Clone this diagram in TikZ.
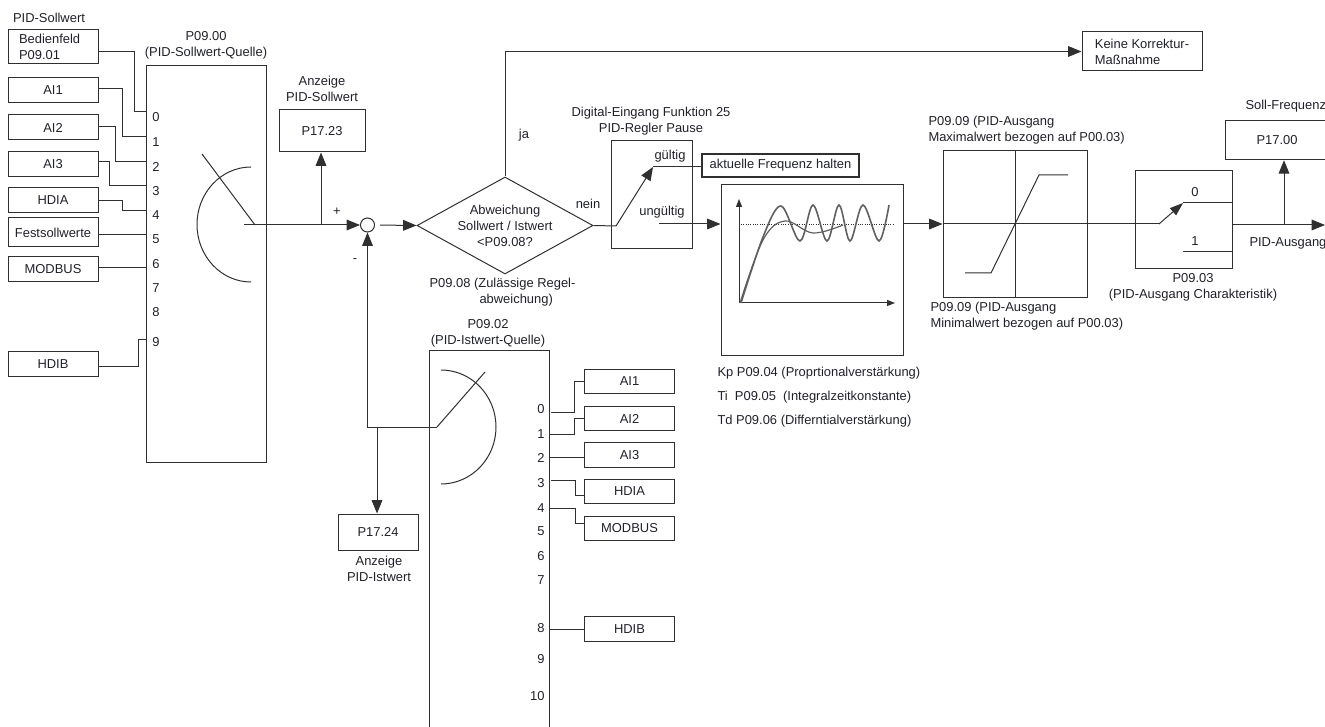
\documentclass[tikz,border=0pt]{standalone}
\usepackage{fontspec}
\setmainfont{Liberation Sans}
\usetikzlibrary{arrows.meta,shapes.geometric,calc}
\definecolor{ink}{HTML}{20202c}
\definecolor{wire}{HTML}{303030}
\definecolor{trace}{HTML}{606060}
\begin{document}
\begin{tikzpicture}[x=0.75pt,y=-0.75pt,
   every node/.style={font=\fontsize{9.7}{12}\selectfont,text=ink,inner sep=0pt},
   every path/.style={draw=wire,line width=0.75pt},
   lbl/.style={align=center},
   lft/.style={align=left,anchor=west},
   box/.style={rectangle,draw=wire,line width=0.75pt,align=center},
   srcbox/.style={box,minimum width=67.5pt,minimum height=18.5pt},
   arr/.style={-{Triangle[length=10pt,width=8pt]}},
   sarr/.style={-{Triangle[length=6pt,width=4.5pt]}},
   sw/.style={line width=0.75pt}]
  \path[use as bounding box,draw=none] (0,0) rectangle (1325,727);

  \node[lbl] (solllbl) at (49,17.5) {PID-Sollwert};
  \node[box,minimum width=67.5pt,minimum height=25.5pt,text width=51pt,align=left] (bedien) at (53,47) {Bedienfeld\\P09.01};
  \foreach \n/\t/\y/\h in {ai1/AI1/90.5/18.75,ai2/AI2/127.5/18.75,ai3/AI3/164/18.75,hdia/HDIA/200.5/18.75,fest/Festsollwerte/232.5/21.75,modbus/MODBUS/269.5/18.75,hdib/HDIB/364/18.75}
    \node[srcbox,minimum height=\h pt] (\n) at (53,\y) {\t};

  \node[box,minimum width=90pt,minimum height=297pt] (srcsel) at (206,264) {};
  \node[lbl] (srcsellbl) at (206,45.5) {P09.00\\(PID-Sollwert-Quelle)};
  \foreach \n/\y/\p in {0/117/112,1/142/137,2/167/162,3/191/186,4/215/211,5/239/235,6/264/268,7/288/288,8/312/312,9/342/340} {
    \node (sn\n) at (156,\y) {\n};
    \coordinate (sp\n) at (146,\p);
  }
  \draw (bedien.east |- 0,52) -| (134,112) -- (sp0);
  \draw (ai1.east |- 0,89) -| (122,137) -- (sp1);
  \draw (ai2.east |- 0,127) -| (115,162) -- (sp2);
  \draw (ai3.east |- 0,161.5) -| (109,186) -- (sp3);
  \draw (hdia.east) -| (122,211) -- (sp4);
  \draw (fest.east |- 0,235) -- (sp5);
  \draw (modbus.east |- 0,268) -- (sp6);
  \draw (hdib.east |- 0,367) -| (138,340) -- (sp9);

  \draw[sw] (251,167) arc[start angle=270,end angle=90,x radius=54,y radius=57.5];
  \coordinate (swa) at (255,225);
  \coordinate (swb) at (202,154);
  \draw[sw] (swb) -- (swa);

  \node[box,minimum width=64.5pt,minimum height=31.5pt] (p1723) at (322,131) {P17.23};
  \node[lbl] (p1723lbl) at (322,88.5) {Anzeige\\PID-Sollwert};
  \node[circle,draw=wire,line width=0.75pt,minimum size=10.5pt] (sum) at (367.5,225) {};
  \coordinate (swin) at (244,225);
  \coordinate (tap1) at (321,225);
  \draw[arr] (swin) -- (sum.west);
  \draw[arr] (tap1) -- (tap1 |- p1723.south);
  \node (plus) at (337,212) {+};
  \node (minus) at (355,261) {-};

  \node[diamond,draw=wire,line width=0.75pt,minimum width=132pt,minimum height=72.75pt,aspect=1.8,align=center] (dec) at (505,225.5) {Abweichung\\Sollwert / Istwert\\<P09.08?};
  \draw[arr,shorten <=3.75pt] (sum.east) -- (dec.west);
  \node[lft] (declbl) at (429,292) {P09.08 (Zulässige Regel-\\\hspace*{37.5pt}abweichung)};
  \node (ja) at (524,135) {ja};
  \node (nein) at (588,204) {nein};

  \node[box,minimum width=90pt,minimum height=29.25pt,align=left] (keine) at (1142,51.5) {Keine Korrektur-\\Maßnahme};
  \draw[arr] (dec.north) |- (keine.west);

  \node[box,minimum width=60.75pt,minimum height=81pt] (pause) at (651.5,195) {};
  \node[lbl] (pauselbl) at (651,121.5) {Digital-Eingang Funktion 25\\PID-Regler Pause};
  \node (gueltig) at (670,156) {gültig};
  \node (ungueltig) at (662,212) {ungültig};
  \node[box,line width=1.9pt,minimum width=117.75pt,minimum height=17.25pt] (halten) at (780.5,165.5) {aktuelle Frequenz halten};
  \coordinate (swp) at (616,226);
  \coordinate (swq) at (653,167);
  \coordinate (swu) at (659,224);
  \draw (dec.east) -- (swp);
  \draw[arr] (swp) -- (swq);
  \draw (swq) -- (swq -| halten.west);

  \node[box,minimum width=136.5pt,minimum height=128.25pt] (ctrl) at (812,270.5) {};
  \draw[arr] (swu) -- (swu -| ctrl.west);
  \coordinate (orig) at (739,303);
  \draw[sarr] (orig) -- (739,199);
  \draw[sarr] (orig) -- (895,303);
  \draw[densely dotted] (741,225) -- (895,225);
  \draw[trace,line width=1.2pt] plot[smooth,tension=0.55] coordinates {(741,303) (763,237) (781,206) (800,241) (813,205) (827,241) (839,205) (850,241) (863,205) (879,241) (889,205)};
  \draw[trace,line width=0.9pt] plot[smooth,tension=0.6] coordinates {(740,303) (763,240) (785,221) (813,233) (843,225)};

  \node[box,minimum width=108pt,minimum height=110.25pt] (lim) at (1015,224) {};
  \node[lft] (limhi) at (928,130) {P09.09 (PID-Ausgang\\Maximalwert bezogen auf P00.03)};
  \node[lft] (limlo) at (930,316) {P09.09 (PID-Ausgang\\Minimalwert bezogen auf P00.03)};
  \draw (lim.north) -- (lim.south);
  \draw[arr] (swu -| ctrl.east) -- (lim.west);
  \draw[sw] (965,273) -- (991,273) -- (1039,175) -- (1068,175);

  \node[box,minimum width=72.75pt,minimum height=73.5pt] (chr) at (1183.5,220) {};
  \node[lbl] (chrlbl) at (1193,287) {P09.03\\(PID-Ausgang Charakteristik)};
  \coordinate (swo) at (1159,224);
  \coordinate (swk) at (1183,203);
  \coordinate (swl) at (1183,252);
  \draw (lim.west) -- (swo);
  \draw[-{Triangle[length=10pt,width=7pt]}] (swo) -- (swk);
  \draw (swk) -- (swk -| chr.east);
  \draw (swl) -- (swl -| chr.east);
  \node (c0) at (1195,192) {0};
  \node (c1) at (1195,241) {1};

  \node[box,minimum width=78pt,minimum height=29.6pt] (p1700) at (1277,140) {P17.00};
  \node[lft] (p1700lbl) at (1245,106) {Soll-Frequenz};
  \node[lft] (outlbl) at (1249,243) {PID-Ausgang};
  \coordinate (outend) at (1325,225);
  \coordinate (tap2) at (1284,225);
  \draw[arr] (chr.east |- outend) -- (outend);
  \draw[arr] (tap2) -- (tap2 |- p1700.south);

  \node[lft] (kp) at (717,373) {Kp P09.04 (Proprtionalverstärkung)};
  \node[lft] (ti) at (717,397) {Ti\ \ P09.05\ \ (Integralzeitkonstante)};
  \node[lft] (td) at (717,421) {Td P09.06 (Differntialverstärkung)};

  \node[box,minimum width=90pt,minimum height=300pt] (istsel) at (489,551) {};
  \node[lbl] (istsellbl) at (488,333) {P09.02\\(PID-Istwert-Quelle)};
  \foreach \n/\y in {0/409,1/434,2/458,3/483,4/508,5/531,6/556,7/580,8/628,9/659,10/696}
    \node[anchor=east] (in\n) at (545,\y) {\n};
  \foreach \n/\t/\y in {bi1/AI1/381.5,bi2/AI2/418.5,bi3/AI3/455,bhdia/HDIA/491.5,bmod/MODBUS/528.5,bhdib/HDIB/629}
    \node[srcbox] (\n) at (629.5,\y) {\t};
  \draw (bi1.west) -| (574,412) -- (551,412);
  \draw (bi2.west) -| (574,434) -- (549,434);
  \draw (bi3.west |- 0,457) -- (549,457);
  \draw (bhdia.west |- 0,495) -| (575,480) -- (551,480);
  \draw (bmod.west |- 0,523) -| (575,508) -- (549,508);
  \draw (bhdib.west) -- (549,629);

  \draw[sw] (441,370) arc[start angle=270,end angle=450,x radius=55,y radius=57];
  \coordinate (swc) at (437,427);
  \coordinate (swd) at (485,372);
  \coordinate (tap3) at (377,427);
  \draw[sw] (swc) -- (swd);
  \draw[arr] (swc) -| (sum.south);
  \node[box,minimum width=60pt,minimum height=27pt] (p1724) at (378,532) {P17.24};
  \node[lbl] (p1724lbl) at (379,569) {Anzeige\\PID-Istwert};
  \draw[arr] (tap3) -- (tap3 |- p1724.north);
\end{tikzpicture}
\end{document}
